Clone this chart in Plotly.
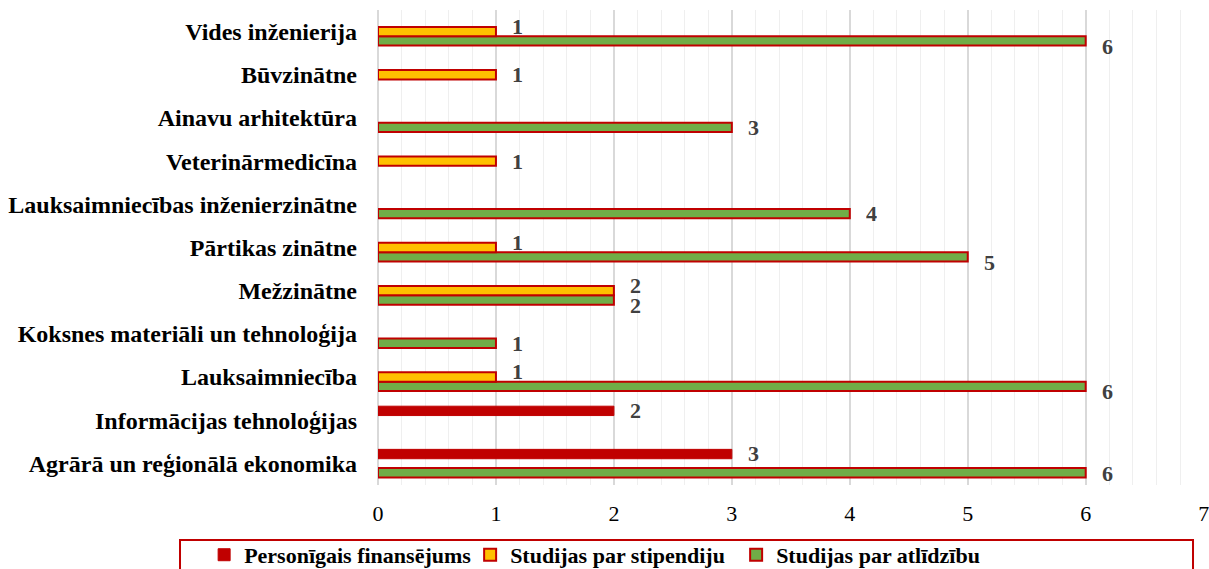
import plotly.graph_objects as go

categories = [
    "Agrārā un reģionālā ekonomika",
    "Informācijas tehnoloģijas",
    "Lauksaimniecība",
    "Koksnes materiāli un tehnoloģija",
    "Mežzinātne",
    "Pārtikas zinātne",
    "Lauksaimniecības inženierzinātne",
    "Veterinārmedicīna",
    "Ainavu arhitektūra",
    "Būvzinātne",
    "Vides inženierija",
]
personigais = [3, 2, None, None, None, None, None, None, None, None, None]
stipendija = [None, None, 1, None, 2, 1, None, 1, None, 1, 1]
atlidziba = [6, None, 6, 1, 2, 5, 4, None, 3, None, 6]

series_names = ["Personīgais finansējums", "Studijas par stipendiju", "Studijas par atlīdzību"]

FONT = "Times New Roman, Liberation Serif, serif"
W, H = 1209, 569
M = dict(l=378, r=5, t=10, b=84, autoexpand=False)
BARGAP = 0.35

fig = go.Figure()
# plotly groups first trace at bottom; Excel shows first series on top
fig.add_trace(go.Bar(
    y=categories, x=atlidziba, name=series_names[2], orientation="h",
    marker=dict(color="#70AD47", line=dict(color="#C00000", width=2)),
    legendrank=3,
))
fig.add_trace(go.Bar(
    y=categories, x=stipendija, name=series_names[1], orientation="h",
    marker=dict(color="#FFC000", line=dict(color="#C00000", width=2)),
    legendrank=2,
))
fig.add_trace(go.Bar(
    y=categories, x=personigais, name=series_names[0], orientation="h",
    marker=dict(color="#C00000", line=dict(color="#C00000", width=1)),
    legendrank=1,
))

# data labels: offset each series to its bar slot, spread labels that collide
plot_h = H - M["t"] - M["b"]
cat_px = plot_h / len(categories)
slot = cat_px * (1 - BARGAP) / 3
series_vals = [(personigais, slot), (stipendija, 0.0), (atlidziba, -slot)]
MIN_SEP = 20
annotations = []
for i, cat in enumerate(categories):
    items = [(v, off) for vals, off in series_vals for v in [vals[i]] if v is not None]
    offs = [off for _, off in items]
    if len(offs) == 2 and abs(offs[0] - offs[1]) < MIN_SEP:
        mid = (offs[0] + offs[1]) / 2
        offs = [mid + MIN_SEP / 2, mid - MIN_SEP / 2]
    for (v, _), off in zip(items, offs):
        annotations.append(dict(
            x=v, y=cat, xref="x", yref="y", text=str(v), showarrow=False,
            xanchor="left", yanchor="middle", xshift=14, yshift=off,
            height=17, valign="middle",
            font=dict(family=FONT, size=22, color="#404040", weight="bold"),
        ))

fig.update_layout(
    width=W, height=H,
    margin=M,
    paper_bgcolor="white", plot_bgcolor="white",
    barmode="group", bargap=BARGAP, bargroupgap=0,
    font=dict(family=FONT, color="#000000"),
    showlegend=True,
    legend=dict(
        orientation="h", x=-0.2105, xanchor="left", y=-0.103, yanchor="top",
        entrywidth=221, entrywidthmode="pixels",
        font=dict(family=FONT, size=22, color="#000000", weight="bold"),
        bgcolor="rgba(0,0,0,0)", traceorder="normal",
    ),
    xaxis=dict(
        range=[0, 7.003], dtick=1, tick0=0,
        showgrid=True, gridcolor="#D9D9D9", gridwidth=1.5,
        minor=dict(dtick=0.2, showgrid=True, gridcolor="#EFEFEF", gridwidth=1),
        zeroline=True, zerolinecolor="#D9D9D9", zerolinewidth=1.5,
        showline=False, ticks="", automargin=False, ticklabelstandoff=13,
        ticklabeloverflow="allow",
        tickfont=dict(family=FONT, size=22, color="#000000"),
    ),
    yaxis=dict(
        categoryorder="array", categoryarray=categories,
        showgrid=False, showline=False, ticks="", automargin=False,
        tickfont=dict(family=FONT, size=24, color="#000000", weight="bold"),
        ticklabelstandoff=20,
    ),
    annotations=annotations,
    shapes=[dict(
        type="rect", xref="paper", yref="paper",
        x0=-0.2397, x1=0.9867, y0=-0.22, y1=-0.1158,
        line=dict(color="#C00000", width=2), fillcolor="rgba(0,0,0,0)",
        layer="below",
    )],
)

# remove the default 8px page margin so the figure fills the window exactly
fig.write_html(
    "out.html",
    config={"displayModeBar": False},
    post_script="document.body.style.margin='0';document.body.style.overflow='hidden';",
)
